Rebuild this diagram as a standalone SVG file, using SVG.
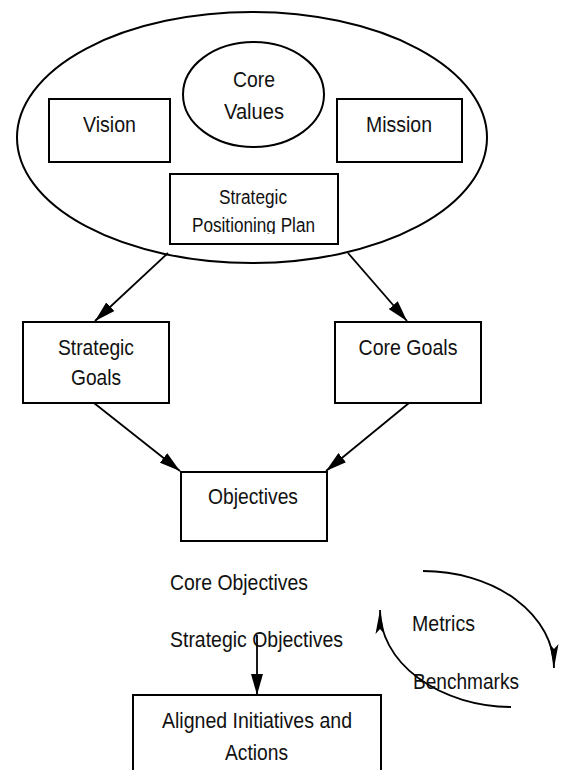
<svg xmlns="http://www.w3.org/2000/svg" width="565" height="770" viewBox="0 0 565 770">
  <style>
    .shape { fill: #fff; stroke: #000; stroke-width: 2; }
    .line { fill: none; stroke: #000; stroke-width: 1.8; }
    .t { font-family: "Liberation Sans", Arial, sans-serif; font-size: 22px; fill: #111; }
    .s { font-size: 19.5px; }
    .c { text-anchor: middle; }
  </style>
  <defs>
    <marker id="arrow" markerUnits="userSpaceOnUse" markerWidth="21" markerHeight="12" refX="21" refY="6" orient="auto">
      <path d="M0,0 L21,6 L0,12 z" fill="#000"/>
    </marker>
    <marker id="thin" markerUnits="userSpaceOnUse" markerWidth="24" markerHeight="9" refX="24" refY="4.5" orient="auto">
      <path d="M0,0 L24,4.5 L0,9 L5,4.5 z" fill="#000"/>
    </marker>
    <clipPath id="sppClip">
      <rect x="170" y="174" width="168" height="60"/>
    </clipPath>
  </defs>

  <!-- outer grouping ellipse -->
  <g id="foundation">
    <ellipse class="shape" cx="252" cy="137.5" rx="235" ry="125.5"/>
  </g>

  <g id="core-values">
    <ellipse class="shape" cx="253.5" cy="94.5" rx="70.5" ry="52.5"/>
    <text class="t c" x="254" y="87" textLength="42" lengthAdjust="spacingAndGlyphs">Core</text>
    <text class="t c" x="254" y="119" textLength="60" lengthAdjust="spacingAndGlyphs">Values</text>
  </g>

  <g id="vision">
    <rect class="shape" x="49" y="99" width="121" height="63"/>
    <text class="t c" x="109.5" y="132" textLength="53" lengthAdjust="spacingAndGlyphs">Vision</text>
  </g>

  <g id="mission">
    <rect class="shape" x="337" y="99" width="125" height="63"/>
    <text class="t c" x="399" y="132" textLength="66" lengthAdjust="spacingAndGlyphs">Mission</text>
  </g>

  <g id="positioning-plan">
    <rect class="shape" x="170" y="174" width="168" height="70"/>
    <g clip-path="url(#sppClip)">
      <text class="t s c" x="253" y="204" textLength="68" lengthAdjust="spacingAndGlyphs">Strategic</text>
      <text class="t s c" x="253.5" y="232" textLength="123" lengthAdjust="spacingAndGlyphs">Positioning Plan</text>
    </g>
  </g>

  <g id="strategic-goals">
    <rect class="shape" x="23" y="322" width="146" height="81"/>
    <text class="t c" x="96" y="355" textLength="76" lengthAdjust="spacingAndGlyphs">Strategic</text>
    <text class="t c" x="96" y="385" textLength="50" lengthAdjust="spacingAndGlyphs">Goals</text>
  </g>

  <g id="core-goals">
    <rect class="shape" x="335" y="322" width="146" height="81"/>
    <text class="t c" x="408" y="355" textLength="99" lengthAdjust="spacingAndGlyphs">Core Goals</text>
  </g>

  <g id="objectives">
    <rect class="shape" x="181" y="472" width="146" height="69"/>
    <text class="t c" x="253" y="504" textLength="90" lengthAdjust="spacingAndGlyphs">Objectives</text>
  </g>

  <g id="objective-types">
    <text class="t" x="170" y="590" textLength="138" lengthAdjust="spacingAndGlyphs">Core Objectives</text>
    <text class="t" x="170" y="647" textLength="173" lengthAdjust="spacingAndGlyphs">Strategic Objectives</text>
  </g>

  <g id="initiatives">
    <rect class="shape" x="133" y="695" width="248" height="100"/>
    <text class="t c" x="257" y="728" textLength="190" lengthAdjust="spacingAndGlyphs">Aligned Initiatives and</text>
    <text class="t c" x="256.5" y="760" textLength="63" lengthAdjust="spacingAndGlyphs">Actions</text>
  </g>

  <g id="measurement">
    <text class="t" x="412" y="631" textLength="63" lengthAdjust="spacingAndGlyphs">Metrics</text>
    <text class="t" x="413" y="689" textLength="106" lengthAdjust="spacingAndGlyphs">Benchmarks</text>
  </g>

  <g id="connectors">
    <line class="line" x1="168" y1="253" x2="95" y2="321" marker-end="url(#arrow)"/>
    <line class="line" x1="348" y1="253" x2="407" y2="321" marker-end="url(#arrow)"/>
    <line class="line" x1="94" y1="403" x2="180" y2="471" marker-end="url(#arrow)"/>
    <line class="line" x1="409" y1="403" x2="326" y2="471" marker-end="url(#arrow)"/>
    <line class="line" x1="257" y1="635" x2="257" y2="695" marker-end="url(#arrow)"/>
    <path class="line" d="M423,571 A131,97 0 0 1 554,668" marker-end="url(#thin)"/>
    <path class="line" d="M511,707 A133,97 0 0 1 380,610" marker-end="url(#thin)"/>
  </g>
</svg>
